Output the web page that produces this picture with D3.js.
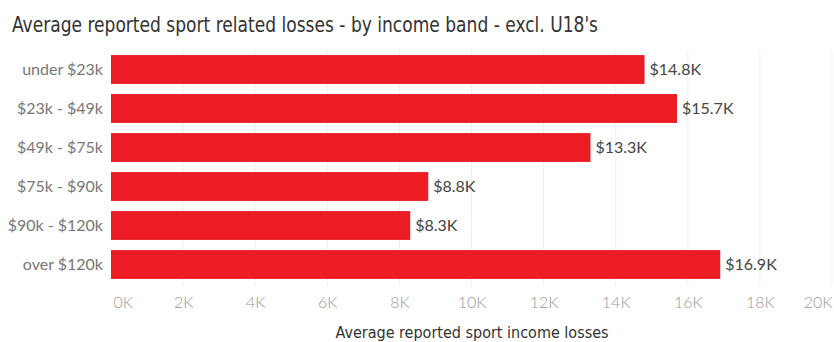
<!DOCTYPE html>
<html><head><meta charset="utf-8">
<script src="https://cdn.jsdelivr.net/npm/d3@7"></script>
<style>body{margin:0;background:#fff}svg{display:block}</style>
</head><body>
<svg id="c" width="834" height="342"></svg>
<script>
const categories = ["under $23k","$23k - $49k","$49k - $75k","$75k - $90k","$90k - $120k","over $120k"];
const values = [14.8, 15.7, 13.3, 8.8, 8.3, 16.9];
const valueLabels = ["$14.8K","$15.7K","$13.3K","$8.8K","$8.3K","$16.9K"];
const ticks = [0,2,4,6,8,10,12,14,16,18,20];
const tickLabels = ["0K","2K","4K","6K","8K","10K","12K","14K","16K","18K","20K"];
const title = "Average reported sport related losses - by income band - excl. U18's";
const axisTitle = "Average reported sport income losses";

const svg = d3.select("#c");
const x = d3.scaleLinear().domain([0,20]).range([111,832]);
const y = d3.scaleBand().domain(categories).range([50,284]).paddingInner(0.26).paddingOuter(0.13);

const cond = "'DejaVu Sans Condensed','Liberation Sans Narrow',sans-serif";

svg.append("text").attr("x",12).attr("y",32).text(title)
  .attr("font-family",cond).attr("font-size",22).attr("fill","#333")
  .attr("textLength",586).attr("lengthAdjust","spacingAndGlyphs");

// gridlines
svg.append("g").selectAll("line").data(ticks.slice(1)).join("line")
  .attr("x1",d=>x(d)).attr("x2",d=>x(d)).attr("y1",50).attr("y2",286)
  .attr("stroke","#efefef").attr("stroke-width",1);

svg.append("g").selectAll("rect").data(values).join("rect")
  .attr("x",x(0)).attr("y",(d,i)=>y(categories[i]))
  .attr("width",d=>x(d)-x(0)).attr("height",y.bandwidth())
  .attr("fill","#ec1c24");

svg.append("g").selectAll("text").data(valueLabels).join("text")
  .attr("x",(d,i)=>x(values[i])+5).attr("y",(d,i)=>y(categories[i])+y.bandwidth()/2)
  .attr("dy","0.35em").text(d=>d)
  .attr("font-family","Lato,sans-serif").attr("font-size",16).attr("fill","#444");

svg.append("g").selectAll("text").data(categories).join("text")
  .attr("x",103).attr("y",d=>y(d)+y.bandwidth()/2).attr("dy","0.35em")
  .attr("text-anchor","end").text(d=>d)
  .attr("font-family","Lato,sans-serif").attr("font-size",16).attr("fill","#777");

const xa = svg.append("g").attr("transform","translate(0,286)")
  .call(d3.axisBottom(x).tickValues(ticks).tickFormat((d,i)=>tickLabels[i]).tickSize(0).tickPadding(11));
xa.select(".domain").remove();
xa.selectAll("text").attr("font-family","Lato,sans-serif").attr("font-weight",300)
  .attr("font-size",16).attr("fill","#999");
xa.selectAll(".tick").filter(d=>d===0).select("text").attr("text-anchor","start").attr("x",2);
xa.selectAll(".tick").filter(d=>d===20).select("text").attr("text-anchor","end").attr("x",0);

svg.append("text").attr("x",472).attr("y",338).attr("text-anchor","middle").text(axisTitle)
  .attr("font-family",cond).attr("font-size",16).attr("fill","#333")
  .attr("textLength",273).attr("lengthAdjust","spacingAndGlyphs");
</script>
</body></html>
